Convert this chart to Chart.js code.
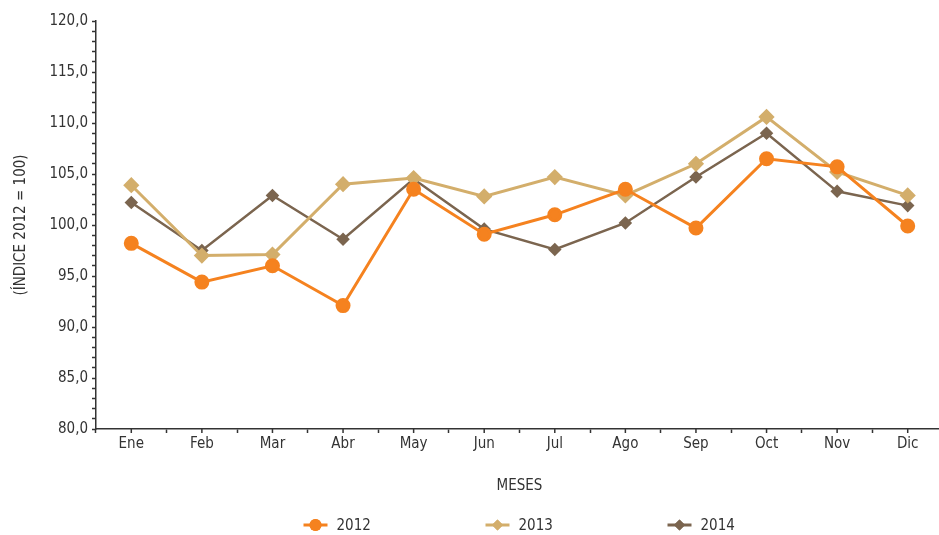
<!DOCTYPE html>
<html lang="es">
<head>
  <meta charset="UTF-8">
  <title>Índice mensual 2012-2014</title>
  <script src="https://cdn.jsdelivr.net/npm/chart.js"></script>
  <style>
    body {
      margin: 0;
      padding: 0;
      background: #fff;
      overflow: hidden;
    }
    /* el gráfico original está recortado a la derecha, por eso el lienzo es más ancho que la ventana */
    .chart-box {
      position: relative;
      width: 952px;
      height: 535px;
    }
  </style>
</head>
<body>
  <div class="chart-box">
    <canvas id="grafico"></canvas>
  </div>

  <script>
    // Datos
    const meses = ["Ene", "Feb", "Mar", "Abr", "May", "Jun", "Jul", "Ago", "Sep", "Oct", "Nov", "Dic"];
    const serie2012 = [98.2, 94.4, 96.0, 92.1, 103.5, 99.1, 101.0, 103.5, 99.7, 106.5, 105.7, 99.9];
    const serie2013 = [103.9, 97.0, 97.1, 104.0, 104.6, 102.8, 104.7, 102.9, 106.0, 110.6, 105.2, 102.9];
    const serie2014 = [102.2, 97.5, 102.9, 98.6, 104.5, 99.6, 97.6, 100.2, 104.7, 109.0, 103.3, 101.9];
    const ejeYMin = 80;
    const ejeYMax = 120;

    const fuente = "'Liberation Sans Narrow', 'DejaVu Sans Condensed', Arial, sans-serif";
    const colorTexto = "#333333";

    // Marcas de los meses (además de las separaciones que dibuja la rejilla)
    const marcasCentro = {
      id: "marcasCentro",
      afterDraw(chart) {
        const x = chart.scales.x;
        const ctx = chart.ctx;
        ctx.save();
        ctx.strokeStyle = "#333";
        ctx.lineWidth = 1.5;
        meses.forEach((m, i) => {
          const px = x.getPixelForValue(i);
          ctx.beginPath();
          ctx.moveTo(px, x.top);
          ctx.lineTo(px, x.top + 4);
          ctx.stroke();
        });
        ctx.restore();
      }
    };

    // Leyenda con línea y marcador
    const leyenda = {
      id: "leyenda",
      afterDraw(chart) {
        const ctx = chart.ctx;
        const area = chart.chartArea;
        const y = 525;
        const paso = 182;
        const total = paso * (chart.data.datasets.length - 1) + 66;
        const x0 = (area.left + area.right) / 2 - total / 2 - 1;
        ctx.save();
        ctx.font = "15px " + fuente;
        ctx.textBaseline = "middle";
        chart.data.datasets.forEach((ds, i) => {
          const x = x0 + i * paso;
          ctx.strokeStyle = ds.borderColor;
          ctx.lineWidth = 3;
          ctx.beginPath();
          ctx.moveTo(x, y);
          ctx.lineTo(x + 24, y);
          ctx.stroke();
          ctx.fillStyle = ds.borderColor;
          Chart.helpers.drawPoint(ctx, {
            pointStyle: ds.pointStyle,
            radius: ds.pointStyle === "circle" ? 6 : 5.5,
            borderWidth: 0
          }, x + 12, y);
          ctx.fill();
          ctx.fillStyle = colorTexto;
          ctx.fillText(ds.label, x + 33, y + 1);
        });
        ctx.restore();
      }
    };

    const ctx = document.getElementById("grafico").getContext("2d");
    const grafico = new Chart(ctx, {
      type: "line",
      data: {
        labels: meses,
        datasets: [
          {
            label: "2012",
            data: serie2012,
            borderColor: "#F5821F",
            backgroundColor: "#F5821F",
            borderWidth: 3,
            pointStyle: "circle",
            pointRadius: 6,
            pointHoverRadius: 6,
            tension: 0
          },
          {
            label: "2013",
            data: serie2013,
            borderColor: "#D3AE6B",
            backgroundColor: "#D3AE6B",
            borderWidth: 3,
            pointStyle: "rectRot",
            pointRadius: 6,
            pointHoverRadius: 6,
            tension: 0
          },
          {
            label: "2014",
            data: serie2014,
            borderColor: "#7B654F",
            backgroundColor: "#7B654F",
            borderWidth: 2.5,
            pointStyle: "rectRot",
            pointRadius: 5,
            pointHoverRadius: 5,
            tension: 0
          }
        ]
      },
      options: {
        responsive: true,
        maintainAspectRatio: false,
        animation: false,
        layout: {
          padding: { top: 21, right: 0, bottom: 36, left: 0 }
        },
        plugins: {
          legend: { display: false },
          tooltip: { enabled: false }
        },
        scales: {
          x: {
            offset: true,
            afterFit: (s) => { s.height = 70; },
            border: { color: "#333", width: 1.5 },
            grid: {
              offset: true,
              drawOnChartArea: false,
              tickLength: 4,
              tickColor: "#333",
              tickWidth: 1.5
            },
            ticks: {
              color: colorTexto,
              font: { family: fuente, size: 15 },
              padding: 2,
              maxRotation: 0
            },
            title: {
              display: true,
              text: "MESES",
              color: colorTexto,
              font: { family: fuente, size: 15 },
              padding: { top: 18 }
            }
          },
          y: {
            min: ejeYMin,
            max: ejeYMax,
            afterFit: (s) => { s.width = 96; },
            border: { color: "#333", width: 1.5 },
            grid: {
              drawOnChartArea: false,
              tickLength: 4,
              tickColor: "#333",
              tickWidth: 1.5
            },
            ticks: {
              stepSize: 1,
              autoSkip: false,
              color: colorTexto,
              font: { family: fuente, size: 15 },
              padding: 4,
              callback: (v) => (v % 5 === 0 ? v.toFixed(1).replace(".", ",") : "")
            },
            title: {
              display: true,
              text: "(ÍNDICE 2012 = 100)",
              color: colorTexto,
              font: { family: fuente, size: 15 },
              padding: { top: 12, bottom: 0 }
            }
          }
        }
      },
      plugins: [marcasCentro, leyenda]
    });
  </script>
</body>
</html>
